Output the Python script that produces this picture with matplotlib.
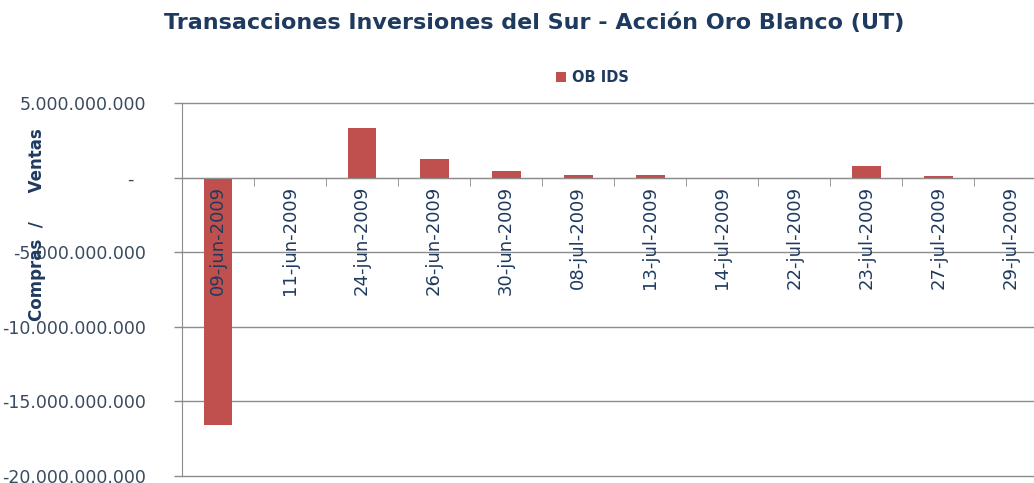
import numpy as np
import matplotlib
matplotlib.use('Agg')
import matplotlib.pyplot as plt
from matplotlib.ticker import FuncFormatter, FixedLocator

# data (UT)
fechas = ['09-jun-2009', '11-jun-2009', '24-jun-2009', '26-jun-2009', '30-jun-2009',
          '08-jul-2009', '13-jul-2009', '14-jul-2009', '22-jul-2009', '23-jul-2009',
          '27-jul-2009', '29-jul-2009']
ob_ids = [-16.6e9, 0, 3.3e9, 1.25e9, 0.47e9, 0.2e9, 0.2e9, 0, 0, 0.8e9, 0.1e9, 0]

navy = '#1F3A5F'
red = '#C0504D'
gray = '#8C8C8C'

fig = plt.figure(figsize=(10.34, 4.83), dpi=100)
ax = fig.add_axes([0.176, 0.0145, 0.836, 0.7722])

x = np.arange(len(fechas))
ax.bar(x, ob_ids, width=0.4, color=red, label='OB IDS', zorder=2)

ax.set_xlim(-0.5, len(fechas) - 0.5)
ax.set_ylim(-20e9, 5e9)
yt = np.arange(-20e9, 5.1e9, 5e9)
ax.set_yticks(yt)
for v in yt:
    ax.axhline(v, color=gray, linewidth=1, zorder=1, clip_on=False)
ax.set_axisbelow(False)


def fmt(v, pos):
    if v == 0:
        return '-  '
    return '{:,.0f}'.format(v).replace(',', '.')


ax.yaxis.set_major_formatter(FuncFormatter(fmt))
ax.tick_params(axis='y', labelsize=12.5, labelcolor='#3A4A60', color=gray,
               length=6, width=1, pad=20)

# category axis drawn on the zero line
ax.spines['bottom'].set_position(('data', 0))
ax.spines['bottom'].set_color(gray)
ax.spines['left'].set_color(gray)
ax.spines['top'].set_visible(False)
ax.spines['right'].set_visible(False)
ax.set_xticks(x)
ax.set_xticklabels(fechas, rotation=90, va='top', ha='center')
ax.xaxis.set_minor_locator(FixedLocator(x[:-1] + 0.5))
ax.tick_params(axis='x', which='major', length=0, labelsize=13, labelcolor=navy, pad=6)
ax.tick_params(axis='x', which='minor', length=6, color=gray, direction='out')

fig.text(0.517, 0.953, 'Transacciones Inversiones del Sur - Acción Oro Blanco (UT)',
         ha='center', va='center', fontsize=16, fontweight='bold', color=navy)
fig.text(0.036, 0.535, 'Compras  /     Ventas', rotation=90, ha='center', va='center',
         fontsize=12, fontweight='bold', color=navy)

fig.legend(loc='center', bbox_to_anchor=(0.573, 0.84), frameon=False,
           handlelength=0.7, handleheight=0.7, handletextpad=0.4, labelcolor=navy,
           prop={'weight': 'bold', 'size': 10.5})

fig.savefig('out.png', dpi=100)
